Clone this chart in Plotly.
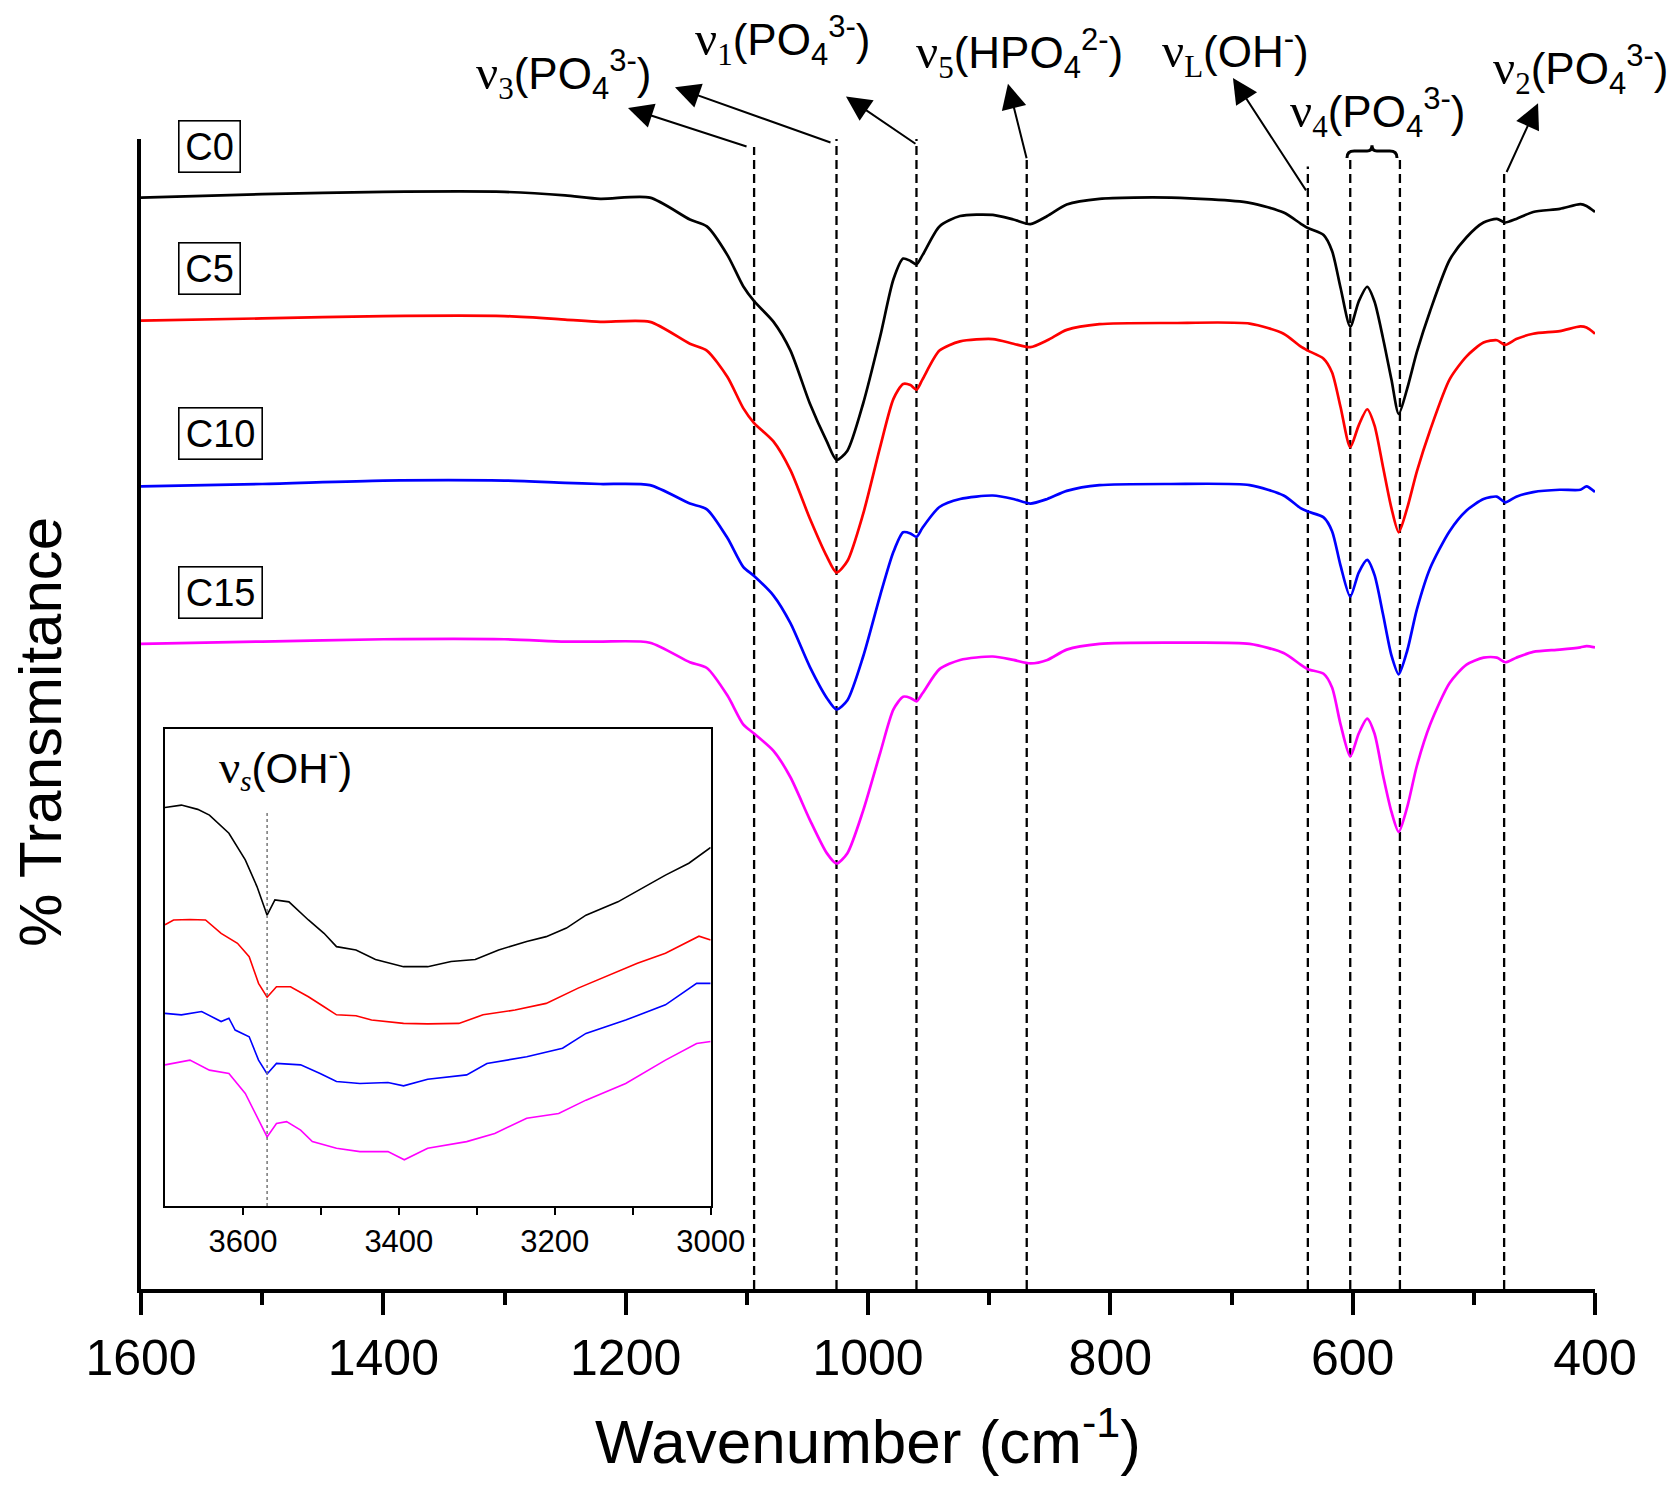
import plotly.graph_objects as go

# ---------------- main spectra (wavenumber, % transmittance, offset stacked) ----------------
wavenumber = [1600, 1500, 1400, 1300, 1250, 1221, 1180, 1147, 1133, 1116, 1103, 1094, 1078, 1064,
              1048, 1034, 1026, 1017, 1004, 990, 979, 971, 965, 960, 955, 941, 924, 897, 880,
              866, 852, 836, 809, 750, 685, 657, 643, 637, 624, 617, 610, 602, 595, 588, 582,
              575, 568, 562, 555, 547, 536, 520, 506, 492, 481, 474, 465, 451, 429, 412, 407, 400]

c0 = [94.9, 95.2, 95.4, 95.4, 95.1, 94.8, 94.9, 93.0, 92.4, 89.9, 87.2, 85.9, 84.1, 81.6,
      77.0, 73.7, 72.1, 72.9, 77.0, 82.8, 87.8, 89.6, 89.4, 89.1, 89.9, 92.4, 93.3, 93.4, 93.0,
      92.6, 93.3, 94.3, 94.8, 94.9, 94.45, 93.6, 92.65, 92.26, 91.65, 90.26, 87.07, 83.67, 85.87, 87.15, 85.87,
      82.7, 79.08, 76.09, 78.29, 81.48, 85.07, 89.48, 91.46, 92.74, 93.05, 92.74, 93.05, 93.65, 93.93, 94.33, 94.17, 93.65]

c5 = [84.2, 84.4, 84.6, 84.6, 84.3, 84.1, 84.1, 82.2, 81.6, 79.3, 76.6, 75.3, 73.7, 71.2,
      67.0, 63.7, 62.3, 63.3, 67.4, 73.2, 77.4, 78.7, 78.6, 78.2, 79.1, 81.6, 82.4, 82.6, 82.2,
      81.9, 82.5, 83.4, 83.9, 84.0, 83.95, 83.07, 81.96, 81.6, 80.9, 79.7, 76.7, 73.2, 75.1, 76.5, 75.1,
      71.5, 67.9, 65.8, 67.9, 71.1, 74.7, 79.1, 81.1, 82.3, 82.5, 82.1, 82.6, 83.07, 83.3, 83.7, 83.6, 83.07]

c10 = [69.8, 70.0, 70.3, 70.3, 70.1, 70.0, 69.9, 68.3, 67.8, 65.3, 62.8, 62.0, 60.3, 57.9,
       54.1, 51.4, 50.4, 51.2, 55.0, 60.3, 64.1, 65.8, 65.7, 65.4, 66.2, 68.0, 68.7, 69.0, 68.7,
       68.3, 68.7, 69.4, 69.9, 70.0, 69.9, 69.0, 67.9, 67.6, 67.1, 65.9, 62.9, 60.2, 62.3, 63.4, 62.1,
       58.7, 55.1, 53.45, 55.5, 59.1, 62.7, 65.9, 67.7, 68.7, 68.9, 68.4, 68.9, 69.3, 69.5, 69.5, 69.8, 69.3]

c15 = [56.1, 56.3, 56.5, 56.5, 56.3, 56.3, 56.2, 54.5, 54.0, 51.6, 49.1, 48.3, 46.8, 44.5,
       40.8, 37.9, 37.0, 37.9, 41.6, 46.6, 50.4, 51.5, 51.4, 51.1, 51.8, 53.9, 54.7, 55.0, 54.7,
       54.4, 54.7, 55.6, 56.1, 56.2, 56.1, 55.3, 54.3, 53.9, 53.5, 52.3, 49.1, 46.3, 48.3, 49.6, 48.3,
       44.7, 41.5, 39.75, 41.9, 45.5, 49.1, 52.7, 54.3, 54.9, 54.9, 54.5, 54.9, 55.4, 55.6, 55.8, 55.9, 55.8]

series_names = ["C0", "C5", "C10", "C15"]
series_colors = ["#000000", "#FF0000", "#0000FF", "#FF00FF"]
main_series = [c0, c5, c10, c15]

# ---------------- inset (O-H stretching region) ----------------
inset_wn_c0 = [3700, 3679, 3658, 3643, 3618, 3597, 3582, 3569, 3559, 3541, 3516, 3496, 3480, 3455,
               3430, 3394, 3363, 3333, 3302, 3272, 3236, 3211, 3185, 3160, 3119, 3084, 3058, 3028, 3000]
inset_c0 = [83.6, 84.1, 83.2, 82.0, 78.2, 72.6, 67.0, 61.0, 64.2, 63.8, 60.0, 57.2, 54.4, 53.7,
            51.7, 50.2, 50.2, 51.3, 51.7, 53.7, 55.5, 56.5, 58.3, 61.0, 63.8, 67.0, 69.4, 71.9, 75.2]

inset_wn_c5 = [3700, 3689, 3668, 3648, 3628, 3607, 3592, 3580, 3569, 3557, 3539, 3516, 3496, 3480,
               3455, 3435, 3394, 3363, 3323, 3292, 3251, 3211, 3170, 3135, 3094, 3058, 3015, 3000]
inset_c5 = [59.0, 60.0, 60.1, 60.0, 57.2, 55.1, 52.3, 46.7, 43.8, 46.0, 46.0, 43.9, 41.8, 40.1,
            39.9, 39.0, 38.3, 38.2, 38.3, 40.1, 41.1, 42.5, 45.7, 48.1, 50.9, 53.0, 56.6, 55.8]

inset_wn_c10 = [3700, 3679, 3653, 3628, 3618, 3610, 3592, 3580, 3569, 3557, 3526, 3501, 3480, 3450,
                3414, 3394, 3363, 3313, 3287, 3236, 3190, 3160, 3109, 3058, 3018, 3000]
inset_c10 = [40.4, 40.1, 40.8, 38.7, 39.4, 36.9, 35.5, 30.6, 27.7, 29.9, 29.6, 27.8, 26.1, 25.7,
             25.9, 25.2, 26.6, 27.5, 29.9, 31.3, 33.1, 36.2, 39.0, 42.2, 46.7, 46.7]

inset_wn_c15 = [3700, 3668, 3643, 3618, 3597, 3582, 3569, 3557, 3544, 3526, 3511, 3480, 3450, 3414,
                3393, 3363, 3313, 3277, 3236, 3195, 3160, 3109, 3058, 3018, 3000]
inset_c15 = [29.6, 30.6, 28.5, 27.8, 23.6, 18.7, 14.5, 17.3, 17.7, 15.9, 13.5, 12.1, 11.4, 11.4,
             9.7, 12.1, 13.5, 15.2, 18.4, 19.4, 22.2, 25.7, 30.6, 34.1, 34.5]

inset_wns = [inset_wn_c0, inset_wn_c5, inset_wn_c10, inset_wn_c15]
inset_series = [inset_c0, inset_c5, inset_c10, inset_c15]

# ---------------- band assignments ----------------
band_lines = [1094, 1026, 960, 869, 637, 602, 561, 475]
band_line_tops = [99.3, 101.0, 100.3, 98.2, 97.6, 98.4, 98.4, 97.0]
oh_stretch = 3569

X_MAX, X_MIN = 1600, 400
Y_MIN, Y_MAX = 0, 100

SANS = "Arial, 'Liberation Sans', sans-serif"
SERIF = "'Times New Roman', 'Liberation Serif', serif"
LABEL_SIZE = 44


def px(wn):
    return (X_MAX - wn) / (X_MAX - X_MIN)


def py(v):
    return (v - Y_MIN) / (Y_MAX - Y_MIN)


def small(txt, size, extra=""):
    return '<span style="' + extra + 'font-size:' + str(round(size * 0.7)) + 'px">' + txt + '</span>'


def sub(txt, size, extra=""):
    return "<sub>" + small(txt, size, extra) + "</sub>"


def sup(txt, size):
    return "<sup>" + small(txt, size) + "</sup>"


def nu(s, size, italic=False):
    st = "font-style:italic;" if italic else ""
    return ('<span style="font-family:' + SERIF + ';font-size:' + str(round(size * 1.12)) + 'px">&#957;</span>'
            + sub(s, size, st + "font-family:" + SERIF + ";"))


def phosphate(n, size, charge="3-", h=""):
    return nu(n, size) + "(" + h + "PO" + sub("4", size) + sup(charge, size) + ")"


band_labels = [
    (phosphate("3", LABEL_SIZE), 1251.7, 105.6),
    (phosphate("1", LABEL_SIZE), 1070.2, 108.6),
    (phosphate("5", LABEL_SIZE, "2-", "H"), 874.6, 107.4),
    (nu("L", LABEL_SIZE) + "(OH" + sup("-", LABEL_SIZE) + ")", 697.1, 107.5),
    (phosphate("4", LABEL_SIZE), 579.1, 102.3),
    (phosphate("2", LABEL_SIZE), 411.6, 106.0),
]

# arrows: (tail_wn, tail_y, head_wn, head_y)
arrows = [
    (1099.0, 99.3, 1198.1, 102.7),
    (1029.7, 99.65, 1159.3, 104.5),
    (959.6, 99.5, 1018.2, 103.7),
    (868.8, 98.2, 884.5, 104.8),
    (637.7, 95.4, 698.8, 105.3),
    (473.5, 97.0, 447.0, 103.1),
]

# sample tags: (name, left wn, centre y, box width)
sample_tags = [("C0", 1569.5, 99.35, 56), ("C5", 1569.5, 88.7, 56),
               ("C10", 1569.5, 74.4, 78), ("C15", 1569.5, 60.6, 78)]

fig = go.Figure()

for name, color, ys in zip(series_names, series_colors, main_series):
    fig.add_trace(go.Scatter(x=wavenumber, y=ys, mode="lines", name=name,
                             line=dict(color=color, width=2.7, shape="spline", smoothing=0.7),
                             xaxis="x", yaxis="y", showlegend=False))

for name, color, xs, ys in zip(series_names, series_colors, inset_wns, inset_series):
    fig.add_trace(go.Scatter(x=xs, y=ys, mode="lines", name=name,
                             line=dict(color=color, width=1.6),
                             xaxis="x2", yaxis="y2", showlegend=False))

shapes = []
for wn, top in zip(band_lines, band_line_tops):
    shapes.append(dict(type="line", xref="x", yref="y", x0=wn, x1=wn, y0=0, y1=top,
                       line=dict(color="black", width=2.3, dash="9px,5px"), layer="below"))

# brace over the two v4 components
bx0, bx1 = 604.7, 563.4
bm = (bx0 + bx1) / 2
yb0, yb1, ypk = 98.35, 98.95, 99.45
brace = (f"M {bx0},{yb0} Q {bx0},{yb1} {bx0-6},{yb1} L {bm+4},{yb1} Q {bm},{yb1} {bm},{ypk} "
         f"Q {bm},{yb1} {bm-4},{yb1} L {bx1+6},{yb1} Q {bx1},{yb1} {bx1},{yb0}")
shapes.append(dict(type="path", xref="x", yref="y", path=brace, line=dict(color="black", width=3)))

# inset dotted marker
shapes.append(dict(type="line", xref="x2", yref="y2", x0=oh_stretch, x1=oh_stretch, y0=0, y1=83,
                   line=dict(color="#777777", width=1.5, dash="dot")))

annotations = []
for text, x, y in band_labels:
    annotations.append(dict(text=text, x=px(x), y=py(y), xref="paper", yref="paper",
                            showarrow=False, xanchor="center", yanchor="middle",
                            font=dict(family=SANS, size=LABEL_SIZE, color="black")))

for tx, ty, hx, hy in arrows:
    annotations.append(dict(text="", x=hx, y=hy, ax=tx, ay=ty, xref="x", yref="y",
                            axref="x", ayref="y", showarrow=True, arrowhead=2,
                            arrowsize=2.5, arrowwidth=2, arrowcolor="black", standoff=0))

for name, x, y, w in sample_tags:
    annotations.append(dict(text=name, x=x, y=y, xref="x", yref="y", showarrow=False,
                            xanchor="left", yanchor="middle", width=w, height=46,
                            bordercolor="black", borderwidth=1.6, borderpad=2, bgcolor="white",
                            font=dict(family=SANS, size=38, color="black")))

annotations.append(dict(text=nu("s", 42, italic=True) + "(OH" + sup("-", 42) + ")", x=3545, y=91.8,
                        xref="x2", yref="y2", showarrow=False, xanchor="center",
                        yanchor="middle", font=dict(family=SANS, size=42, color="black")))

annotations.append(dict(text="Wavenumber (cm" + sup("-1", 62) + ")", x=0.5, y=-0.129,
                        xref="paper", yref="paper", showarrow=False, xanchor="center",
                        yanchor="middle", font=dict(family=SANS, size=62, color="black")))
annotations.append(dict(text="% Transmitance", x=-0.0695, y=0.4843, xref="paper", yref="paper",
                        showarrow=False, textangle=-90, xanchor="center", yanchor="middle",
                        font=dict(family=SANS, size=60, color="black")))

fig.update_layout(
    width=1667, height=1477,
    margin=dict(l=133, r=80, t=131, b=196),
    paper_bgcolor="white", plot_bgcolor="white",
    shapes=shapes, annotations=annotations,
    xaxis=dict(range=[X_MAX, X_MIN], showgrid=False, zeroline=False, showline=True,
               linecolor="black", linewidth=3.5, ticks="outside", ticklen=22, tickwidth=3.5,
               tickcolor="black", tickvals=[1600, 1400, 1200, 1000, 800, 600, 400],
               tickfont=dict(family=SANS, size=50, color="black"),
               minor=dict(ticks="outside", ticklen=12, tickwidth=3.5, tickcolor="black",
                          tickvals=[1500, 1300, 1100, 900, 700, 500]),
               domain=[0, 1]),
    yaxis=dict(range=[Y_MIN, Y_MAX], showgrid=False, zeroline=False, showline=True,
               linecolor="black", linewidth=3.5, ticks="", showticklabels=False, domain=[0, 1]),
    xaxis2=dict(range=[3700, 3000], domain=[0.0165, 0.3918], anchor="y2", showgrid=False,
                zeroline=False, showline=True, mirror=True, linecolor="black", linewidth=2,
                ticks="outside", ticklen=7, tickwidth=1.5, tickcolor="black",
                tickvals=[3600, 3400, 3200, 3000],
                tickfont=dict(family=SANS, size=31, color="black"),
                minor=dict(ticks="outside", ticklen=7, tickwidth=1.5, tickcolor="black",
                           tickvals=[3500, 3300, 3100])),
    yaxis2=dict(range=[0, 100], domain=[0.0722, 0.4867], anchor="x2", showgrid=False,
                zeroline=False, showline=True, mirror=True, linecolor="black", linewidth=2,
                ticks="", showticklabels=False),
)

fig.write_html("out.html")
